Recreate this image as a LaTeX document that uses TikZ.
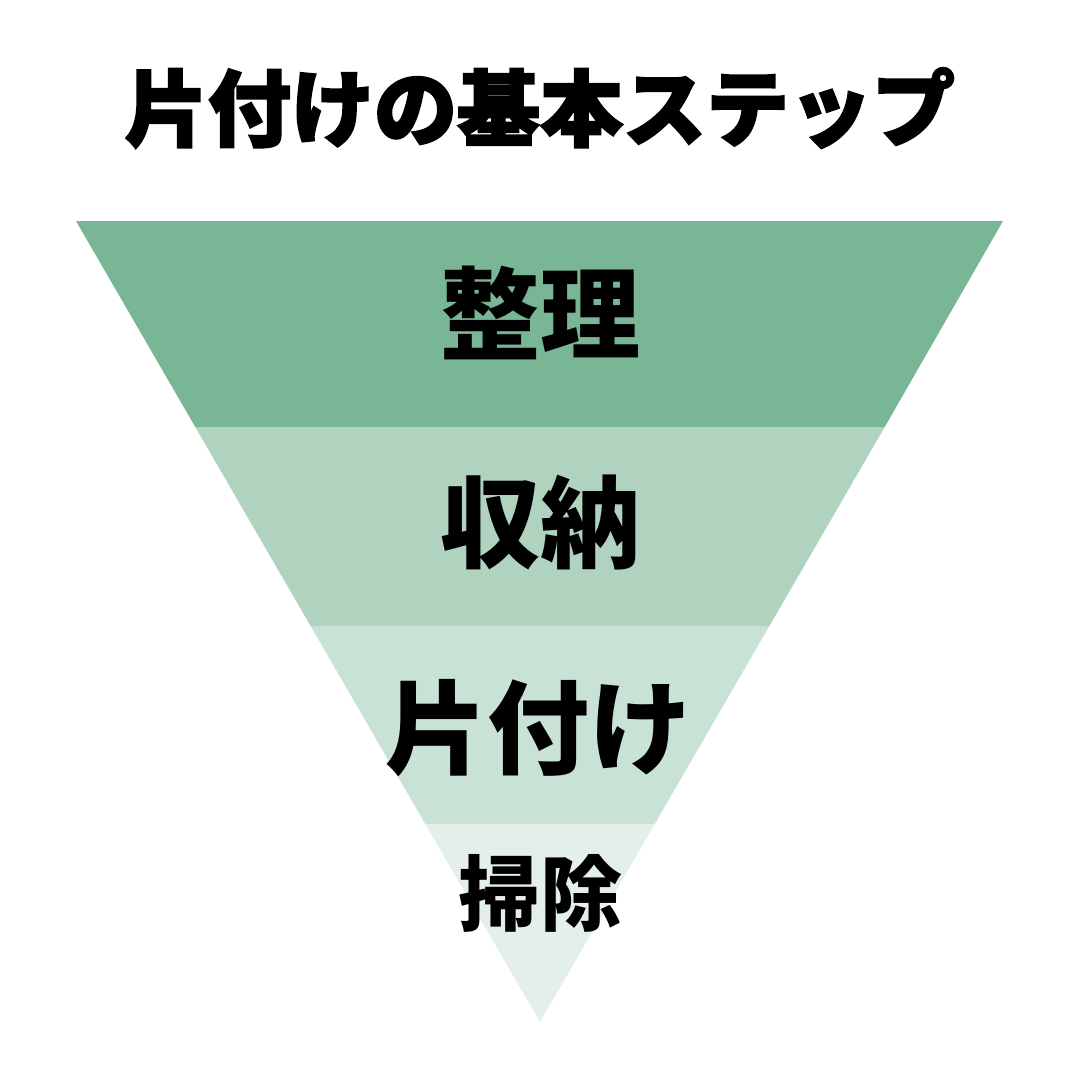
\documentclass[tikz,border=0pt]{standalone}
\usepackage{fontspec}
\newfontfamily\jpfont{Noto Sans CJK JP}
\newfontfamily\jptitle[BoldFeatures={FakeBold=2.5}]{Noto Sans CJK JP}
\definecolor{bandA}{HTML}{79B695}
\definecolor{bandB}{HTML}{AFD3BF}
\definecolor{bandC}{HTML}{C8E3D5}
\definecolor{bandD}{HTML}{E4EFE9}
\begin{document}
\begin{tikzpicture}[x=1pt,y=-1pt,
  lbl/.style={font=\jpfont\bfseries\fontsize{100}{100}\selectfont, inner sep=0pt, text=black},
  ttl/.style={font=\jptitle\bfseries\fontsize{83}{83}\selectfont, inner sep=0pt, text=black}]
\useasboundingbox (0,0) rectangle (1080,1080);
\fill[white] (0,0) rectangle (1080,1080);
\fill[bandA] (76,221) -- (1003,221) -- (884.7,427) -- (195.3,427) -- cycle;
\fill[bandB] (195.3,427) -- (884.7,427) -- (769.4,626) -- (310.6,626) -- cycle;
\fill[bandC] (310.6,626) -- (769.4,626) -- (654.7,824) -- (425.3,824) -- cycle;
\fill[bandD] (425.3,824) -- (654.7,824) -- (540,1022) -- cycle;
\node[ttl] (title) at (540,108) {片付けの基本ステップ};
\node[lbl] (s1) at (540,313) {整理};
\node[lbl] (s2) at (540,522) {収納};
\node[lbl, font=\jpfont\bfseries\fontsize{102}{102}\selectfont] (s3) at (538,728) {片付け};
\node[lbl, font=\jpfont\bfseries\fontsize{82}{82}\selectfont] (s4) at (540,893) {掃除};
\end{tikzpicture}
\end{document}
